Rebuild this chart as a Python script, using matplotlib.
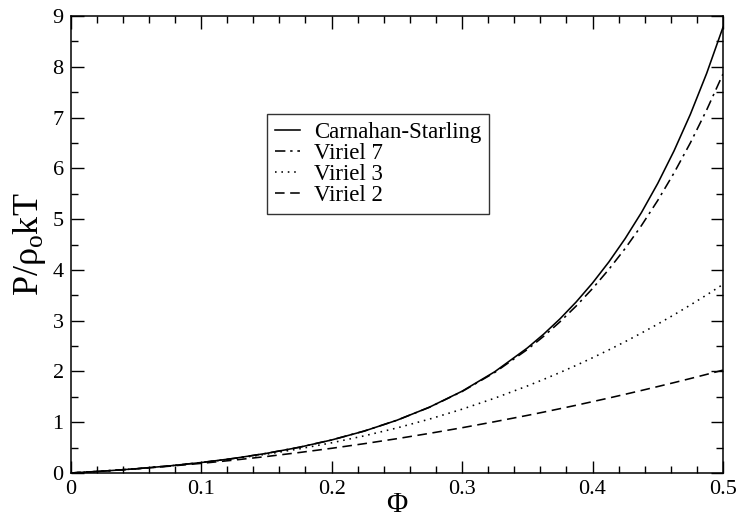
import matplotlib
matplotlib.use("Agg")
import matplotlib.pyplot as plt
from matplotlib.ticker import MultipleLocator

# Data
phi = [0.0, 0.025, 0.05, 0.075, 0.1, 0.125, 0.15, 0.175, 0.2, 0.225, 0.25,
       0.275, 0.3, 0.325, 0.35, 0.3625, 0.375, 0.3875, 0.4, 0.4125, 0.425,
       0.4375, 0.45, 0.4625, 0.475, 0.4875, 0.5]
carnahan_starling = [0.0, 0.037, 0.083, 0.138, 0.205, 0.287, 0.386, 0.505, 0.650,
                     0.825, 1.038, 1.296, 1.610, 1.993, 2.461, 2.733, 3.034,
                     3.369, 3.741, 4.155, 4.616, 5.129, 5.703, 6.345, 7.064,
                     7.871, 8.778]
viriel7 = [0.0, 0.037, 0.083, 0.138, 0.206, 0.287, 0.386, 0.506, 0.650, 0.826,
           1.038, 1.294, 1.604, 1.979, 2.431, 2.691, 2.976, 3.289, 3.632,
           4.009, 4.421, 4.873, 5.368, 5.910, 6.502, 7.150, 7.858]
viriel3 = [0.0, 0.037, 0.083, 0.137, 0.203, 0.280, 0.370, 0.474, 0.594, 0.731,
           0.886, 1.061, 1.256, 1.473, 1.713, 1.843, 1.978, 2.120, 2.269,
           2.424, 2.586, 2.756, 2.932, 3.116, 3.308, 3.507, 3.714]
viriel2 = [0.0, 0.037, 0.081, 0.132, 0.189, 0.253, 0.324, 0.402, 0.486, 0.577,
           0.675, 0.780, 0.891, 1.010, 1.134, 1.199, 1.266, 1.334, 1.405,
           1.476, 1.550, 1.625, 1.702, 1.780, 1.860, 1.942, 2.026]

series_labels = ["Carnahan-Starling", "Viriel 7", "Viriel 3", "Viriel 2"]
x_ticks = [0, 0.1, 0.2, 0.3, 0.4, 0.5]
x_ticklabels = ["0", "0.1", "0.2", "0.3", "0.4", "0.5"]
y_ticks = [0, 1, 2, 3, 4, 5, 6, 7, 8, 9]

plt.rcParams['font.family'] = ['Liberation Serif', 'DejaVu Serif']
plt.rcParams['mathtext.fontset'] = 'custom'
plt.rcParams['mathtext.rm'] = 'Liberation Serif'
plt.rcParams['mathtext.it'] = 'Liberation Serif'

fig = plt.figure(figsize=(7.36, 5.22), dpi=100)
ax = fig.add_axes([0.096, 0.0939, 0.8863, 0.8754])

lw = 1.15
ax.plot(phi, carnahan_starling, color='black', lw=lw, linestyle='-', label=series_labels[0])
ax.plot(phi, viriel7, color='black', lw=lw, linestyle=(0, (6.5, 3, 1.5, 3)), label=series_labels[1])
ax.plot(phi, viriel3, color='black', lw=lw, linestyle=(0, (1, 3)), label=series_labels[2])
ax.plot(phi, viriel2, color='black', lw=lw, linestyle=(0, (6, 3.5)), label=series_labels[3])

ax.set_xlim(0, 0.5)
ax.set_ylim(0, 9)
ax.set_xticks(x_ticks)
ax.set_xticklabels(x_ticklabels)
ax.set_yticks(y_ticks)
ax.xaxis.set_minor_locator(MultipleLocator(0.02))
ax.yaxis.set_minor_locator(MultipleLocator(0.5))
ax.tick_params(which='both', direction='in', top=True, right=True, width=1.0,
               labelsize=16)
ax.tick_params(which='major', length=9, pad=5)
ax.tick_params(which='minor', length=5)
for s in ax.spines.values():
    s.set_linewidth(1.1)

ax.set_xlabel("Φ", fontsize=21, labelpad=-5)
ax.set_ylabel(r"P/ρ$_{\mathrm{o}}$kT", fontsize=26, labelpad=3)

leg = ax.legend(loc='upper left', bbox_to_anchor=(0.301, 0.7856), borderaxespad=0,
                fontsize=16.5, frameon=True, fancybox=False, edgecolor='black',
                handlelength=1.1, handletextpad=0.6, labelspacing=0.0,
                borderpad=0.35)
leg.get_frame().set_linewidth(1.0)

fig.savefig("out.png", dpi=100)
